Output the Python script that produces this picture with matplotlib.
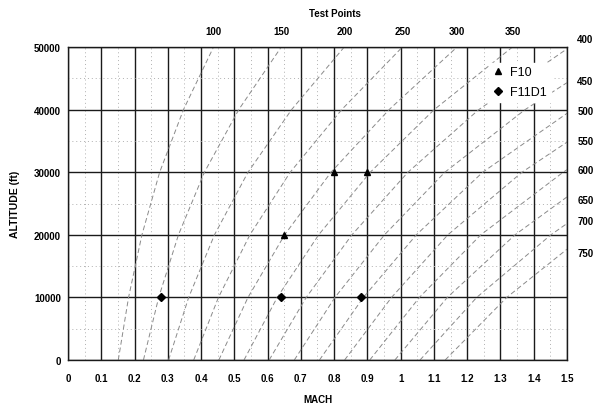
import matplotlib
matplotlib.use('Agg')
import matplotlib.pyplot as plt
from matplotlib.ticker import MultipleLocator

plt.rcParams['font.family'] = ['Liberation Sans', 'DejaVu Sans']

# constant airspeed lines (knots), mach / altitude points
speeds = [100, 150, 200, 250, 300, 350, 400, 450, 500, 550, 600, 650, 700, 750]
curve_mach = [
    [0.1512, 0.1821, 0.2223, 0.2756, 0.3472, 0.4376],
    [0.2268, 0.2727, 0.3321, 0.4102, 0.5134, 0.6412],
    [0.3024, 0.3628, 0.4404, 0.5412, 0.6722, 0.8306],
    [0.3779, 0.4523, 0.5469, 0.6681, 0.8229, 1.0053],
    [0.4535, 0.5411, 0.6513, 0.7907, 0.9653, 1.1696],
    [0.5291, 0.6290, 0.7535, 0.9087, 1.1008, 1.3363],
    [0.6047, 0.7162, 0.8536, 1.0220, 1.2348, 1.5],
    [0.6803, 0.8025, 0.9514, 1.1329, 1.3741, 1.5],
    [0.7559, 0.8879, 1.0472, 1.2467, 1.5],
    [0.8315, 0.9726, 1.1419, 1.3648, 1.5],
    [0.9071, 1.0564, 1.2409, 1.4886, 1.5],
    [0.9826, 1.1403, 1.3439, 1.5],
    [1.0582, 1.2286, 1.4517, 1.5],
    [1.1338, 1.3189, 1.5],
]
curve_alt = [
    [0, 10000, 20000, 30000, 40000, 50000],
    [0, 10000, 20000, 30000, 40000, 50000],
    [0, 10000, 20000, 30000, 40000, 50000],
    [0, 10000, 20000, 30000, 40000, 50000],
    [0, 10000, 20000, 30000, 40000, 50000],
    [0, 10000, 20000, 30000, 40000, 50000],
    [0, 10000, 20000, 30000, 40000, 49700],
    [0, 10000, 20000, 30000, 40000, 44300],
    [0, 10000, 20000, 30000, 39400],
    [0, 10000, 20000, 30000, 34800],
    [0, 10000, 20000, 30000, 30400],
    [0, 10000, 20000, 26050],
    [0, 10000, 20000, 21800],
    [0, 10000, 17700],
]
# where the right-hand speed labels sit (altitude, ft)
right_label_alt = [51300, 44500, 39700, 35000, 30300, 25500, 22200, 17100]

# test points
f10_mach = [0.8, 0.9, 0.65]
f10_alt = [30000, 30000, 20000]
f11_mach = [0.28, 0.64, 0.88]
f11_alt = [10000, 10000, 10000]

fig = plt.figure(figsize=(6, 4.06), dpi=100)
ax = fig.add_axes([0.1133, 0.1108, 0.8317, 0.771])

k = 0
for v, m, h in zip(speeds, curve_mach, curve_alt):
    ax.plot(m, h, color='#8a8a8a', lw=0.7, dashes=(5, 3), zorder=2)
    if h[-1] >= 50000:
        ax.text(m[-1], 52500, str(v), ha='center', va='center',
                fontsize=7, fontweight='bold')
    else:
        ax.text(1.555, right_label_alt[k], str(v), ha='center', va='center',
                fontsize=7, fontweight='bold', clip_on=False)
        k += 1

ax.plot(f10_mach, f10_alt, '^', color='black', ms=4.5, ls='none',
        label='F10', zorder=4)
ax.plot(f11_mach, f11_alt, 'D', color='black', ms=4, ls='none',
        label='F11D1', zorder=4)

ax.set_xlim(0, 1.5)
ax.set_ylim(0, 50000)
ax.xaxis.set_major_locator(MultipleLocator(0.1))
ax.xaxis.set_minor_locator(MultipleLocator(0.05))
ax.yaxis.set_major_locator(MultipleLocator(10000))
ax.yaxis.set_minor_locator(MultipleLocator(5000))
ax.set_xticks([i / 10 for i in range(16)])
ax.set_xticklabels(['0', '0.1', '0.2', '0.3', '0.4', '0.5', '0.6', '0.7',
                    '0.8', '0.9', '1', '1.1', '1.2', '1.3', '1.4', '1.5'])
ax.grid(which='major', color='#1a1a1a', lw=1.0, zorder=1)
ax.grid(which='minor', color='#b0b0b0', lw=0.7, ls=(0, (1, 3)), zorder=1)
ax.tick_params(which='both', length=0)
ax.tick_params(axis='x', pad=9)
ax.tick_params(axis='y', pad=5)
for lab in ax.get_xticklabels() + ax.get_yticklabels():
    lab.set_fontsize(7)
    lab.set_fontweight('bold')
for s in ax.spines.values():
    s.set_color('#1a1a1a')
    s.set_linewidth(1.0)

leg = ax.legend(loc='upper right', bbox_to_anchor=(0.98, 0.97), frameon=True,
                fontsize=9, handlelength=0.8, handletextpad=0.6,
                borderpad=0.3, labelspacing=0.6, fancybox=False)
leg.get_frame().set_edgecolor('white')
leg.get_frame().set_facecolor('white')
leg.get_frame().set_alpha(1)
leg.set_zorder(5)

ax.set_xlabel('MACH', fontsize=7, fontweight='bold', labelpad=8)
ax.set_ylabel('ALTITUDE (ft)', fontsize=7.5, fontweight='bold', labelpad=10)
fig.text(0.558, 0.965, 'Test Points', ha='center', va='center',
         fontsize=7, fontweight='bold')

fig.savefig('out.png', dpi=100)
